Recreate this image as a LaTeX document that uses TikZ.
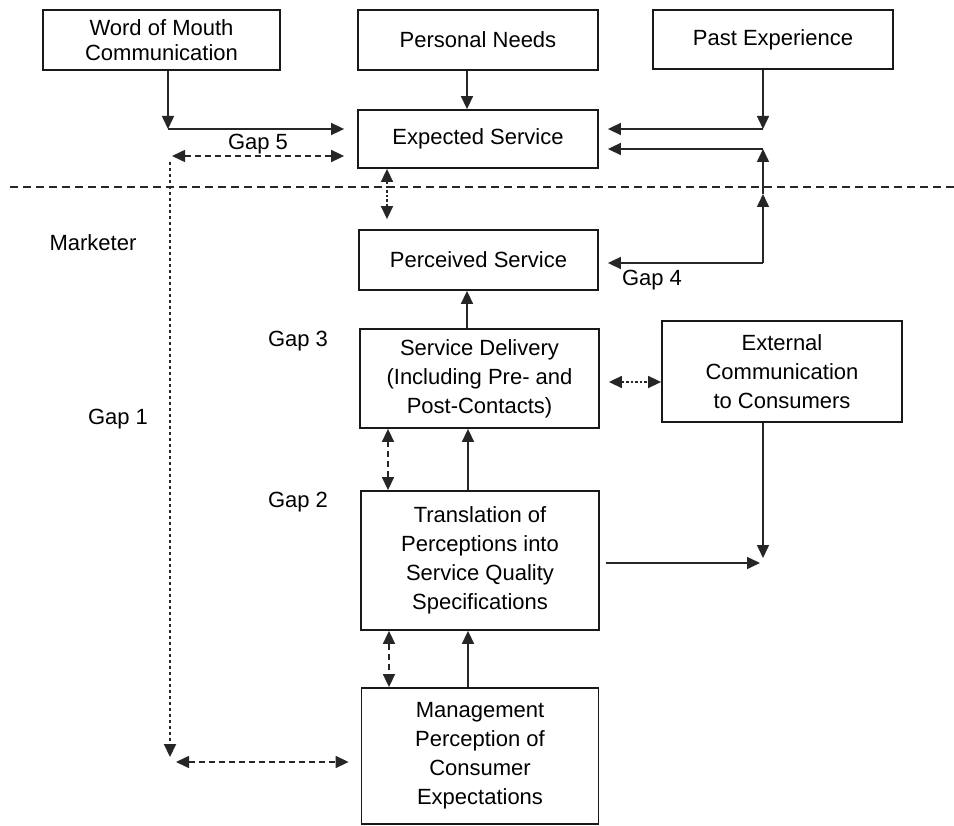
\documentclass[tikz,border=0pt]{standalone}
\usepackage{fontspec}
\setmainfont{Liberation Sans}
\usetikzlibrary{arrows.meta}
\begin{document}
\begin{tikzpicture}[x=1pt,y=-1pt,
  every node/.style={font=\fontsize{22}{29}\selectfont, text=black},
  box/.style={draw=black!90, line width=1.8pt, rectangle, align=center, inner sep=0pt},
  arr/.style={line width=1.6pt, draw=black!85, -{Triangle[length=13pt,width=12pt]}},
  darr/.style={line width=1.6pt, draw=black!85, {Triangle[length=13pt,width=12pt]}-{Triangle[length=13pt,width=12pt]}, dash pattern=on 6pt off 4pt},
  dotarr/.style={line width=1.6pt, draw=black!85, {Triangle[length=13pt,width=12pt]}-{Triangle[length=13pt,width=12pt]}, dash pattern=on 2.5pt off 2pt},
  sep/.style={line width=1.6pt, draw=black!85, dash pattern=on 8pt off 5pt},
  lbl/.style={inner sep=0pt}]
\useasboundingbox (0,0) rectangle (954,826);

% boxes
\node[box, minimum width=237pt, minimum height=60pt, font=\fontsize{22}{25}\selectfont] (wom) at (161.5,40) {Word of Mouth\\Communication};
\node[box, minimum width=240pt, minimum height=60pt] (pn) at (478,40) {Personal Needs};
\node[box, minimum width=240pt, minimum height=59pt] (pe) at (773,39.5) {Past Experience};
\node[box, minimum width=240pt, minimum height=58pt] (es) at (478,139) {Expected Service};
\node[box, minimum width=239pt, minimum height=60pt] (ps) at (478.5,260) {Perceived Service};
\node[box, minimum width=239pt, minimum height=99pt] (sd) at (479.5,378.5) {Service Delivery\\(Including Pre- and\\Post-Contacts)};
\node[box, minimum width=240pt, minimum height=101pt] (ec) at (782,371.5) {External\\Communication\\to Consumers};
\node[box, minimum width=238pt, minimum height=139pt] (tr) at (480,560.5) {Translation of\\Perceptions into\\Service Quality\\Specifications};
\node[box, minimum width=237pt, minimum height=136pt] (mp) at (480,756) {Management\\Perception of\\Consumer\\Expectations};

% labels
\node[lbl] (l5) at (258,144) {Gap 5};
\node[lbl] (lm) at (93,243) {Marketer};
\node[lbl] (l4) at (652,280) {Gap 4};
\node[lbl] (l3) at (298,341) {Gap 3};
\node[lbl] (l2) at (298,502) {Gap 2};
\node[lbl] (l1) at (118,419) {Gap 1};

% junction points
\coordinate (wj) at (168,129);
\coordinate (g5L) at (172,156);
\coordinate (g1T) at (170,162);
\coordinate (g1B) at (170,757);
\coordinate (g1L) at (176,762);
\coordinate (pj) at (763,129);
\coordinate (g4t) at (763,149);
\coordinate (g4m) at (763,194);
\coordinate (g4) at (763,263);
\coordinate (ej) at (763,558);
\coordinate (tj) at (760,563);

% consumer / marketer divide
\draw[sep] (10,187) -- (954,187);

% word of mouth into expected service
\draw[arr] (wom.south -| wj) -- (wj);
\draw[arr, shorten >=13pt] (wj) -- (es.west |- wj);
\draw[arr] (pn.south -| 467,0) -- (es.north -| 467,0);

% past experience into expected service
\draw[arr] (pe.south -| pj) -- (pj);
\draw[arr, shorten >=9pt] (pj) -- (es.east |- pj);

% gap 5 and gap 1
\draw[darr, shorten >=13pt] (g5L) -- (es.west |- g5L);
\draw[arr, dash pattern=on 3pt off 3pt, line width=2pt] (g1T) -- (g1B);
\draw[darr, shorten >=12pt] (g1L) -- (mp.west |- g1L);

% expected vs perceived
\draw[dotarr, shorten >=10pt] (es.south -| 387,0) -- (ps.north -| 387,0);

% gap 4 feed back into expected service
\draw[arr, shorten >=9pt] (g4) -- (ps.east |- g4);
\draw[arr] (g4) -- (g4m);
\draw[arr] (g4m) -- (g4t);
\draw[arr, shorten >=9pt] (g4t) -- (es.east |- g4t);

% delivery chain
\draw[arr] (sd.north -| 467,0) -- (ps.south -| 467,0);
\draw[dotarr, shorten <=9pt] (sd.east |- 0,382) -- (ec.west |- 0,382);
\draw[darr] (sd.south -| 388,0) -- (tr.north -| 388,0);
\draw[arr] (tr.north -| 468,0) -- (sd.south -| 468,0);
\draw[darr] (tr.south -| 389,0) -- (mp.north -| 389,0);
\draw[arr] (mp.north -| 468,0) -- (tr.south -| 468,0);

% external communication
\draw[arr] (ec.south -| ej) -- (ej);
\draw[arr, shorten <=6pt] (tr.east |- tj) -- (tj);
\end{tikzpicture}
\end{document}
